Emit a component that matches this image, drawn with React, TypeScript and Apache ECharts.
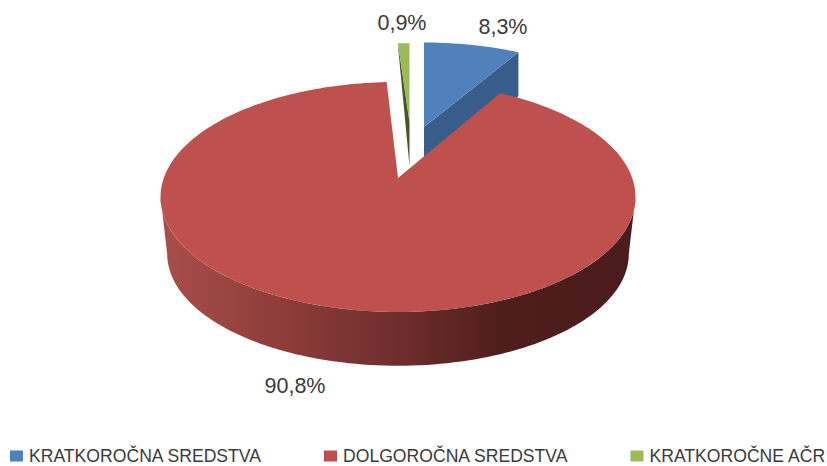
import React, { useEffect, useRef } from "react";
import * as echarts from "echarts";

const categories = ["KRATKOROČNA SREDSTVA", "DOLGOROČNA SREDSTVA", "KRATKOROČNE AČR"];
const shares = [8.3, 90.8, 0.9];
const labelTexts = ["8,3%", "90,8%", "0,9%"];
const topColors = ["#4F81BD", "#BE504D", "#9BBB59"];
const wallColors = ["#385D8A", "#4A1C1B", "#47562A"];

// Perspective of the tilted disc: maps a point of the unit circle on to the screen.
const RX = 234.2;
const RY = 115;
const K = 0.165;
const FONT = "'Liberation Sans', Arial, sans-serif";

// Where each exploded slice sits on the page (layout only).
const poses = [
  { ax: 424, ay: 127, sx: 0.925, sy: 0.88, apexDrop: 44, rimDrop: 44, shrink: 1, labelX: 503, labelY: 27, z: 2 },
  { ax: 398, ay: 178, sx: 1, sy: 1, apexDrop: 57, rimDrop: 57.5, shrink: 0.972, labelX: 295, labelY: 386, z: 4 },
  { ax: 409.5, ay: 122, sx: 1.02, sy: 0.82, apexDrop: 44, rimDrop: 2, shrink: 1, labelX: 402, labelY: 23, z: 3 },
];

function rim(deg: number) {
  const t = (deg * Math.PI) / 180;
  const u = Math.sin(t);
  const v = Math.cos(t);
  const w = 1 + K * v;
  return { dx: (RX * u) / w, dy: -((RY * v + RY * K) / w - RY * K) };
}

function arc(from: number, to: number, place: (p: { dx: number; dy: number }) => number[]) {
  const n = Math.max(2, Math.ceil(Math.abs(to - from) / 1.5));
  const out: number[][] = [];
  for (let i = 0; i <= n; i++) out.push(place(rim(from + ((to - from) * i) / n)));
  return out;
}

function makeRenderItem(index: number) {
  return (_params: any, api: any) => {
    const total = shares.reduce((a, b) => a + b, 0);
    const before = shares.slice(0, index).reduce((a, b) => a + b, 0);
    const start = (before / total) * 360;
    const end = start + ((api.value(0) as number) / total) * 360;
    const p = poses[index];
    const top = (q: { dx: number; dy: number }) => [p.ax + q.dx * p.sx, p.ay + q.dy * p.sy];
    const bottom = (q: { dx: number; dy: number }) => [
      p.ax + q.dx * p.sx * p.shrink,
      p.ay + q.dy * p.sy * p.shrink + p.rimDrop,
    ];
    const children: any[] = [];
    if (index === 1) {
      const tangent = (Math.acos(-K) * 180) / Math.PI;
      children.push({
        type: "polygon",
        shape: {
          points: [...arc(tangent, 360 - tangent, top), ...arc(360 - tangent, tangent, bottom)],
        },
        style: {
          fill: new echarts.graphic.LinearGradient(0, 0, 1, 0, [
            { offset: 0, color: "#A84E4B" },
            { offset: 0.25, color: "#8E3D3A" },
            { offset: 0.5, color: "#6E2E2C" },
            { offset: 0.72, color: "#4F1E1C" },
            { offset: 1, color: wallColors[1] },
          ]),
        },
      });
    } else {
      const wallStart = index === 0 ? end : start;
      const edge = top(rim(wallStart));
      children.push({
        type: "polygon",
        shape: {
          points: [
            [p.ax, p.ay],
            edge,
            [edge[0], edge[1] + p.rimDrop],
            [p.ax, p.ay + p.apexDrop],
          ],
        },
        style: { fill: wallColors[index] },
      });
    }
    children.push({
      type: "polygon",
      shape: { points: [[p.ax, p.ay], ...arc(start, end, top)] },
      style: { fill: topColors[index] },
    });
    children.push({
      type: "text",
      style: {
        text: labelTexts[index],
        x: p.labelX,
        y: p.labelY,
        fill: "#3A3A3A",
        font: `21.5px ${FONT}`,
        align: "center",
        verticalAlign: "middle",
      },
    });
    return { type: "group", children };
  };
}

export default function App() {
  const ref = useRef<HTMLDivElement>(null);
  useEffect(() => {
    const chart = echarts.init(ref.current!, undefined, { renderer: "svg" });
    chart.setOption({
      animation: false,
      backgroundColor: "#FFFFFF",
      legend: {
        data: categories,
        left: 10,
        top: 447,
        icon: "rect",
        itemWidth: 13,
        itemHeight: 11,
        itemGap: 62,
        padding: 0,
        textStyle: { color: "#3A3A3A", fontFamily: FONT, fontSize: 17.6, lineHeight: 16, padding: [0, 0, 0, 1] },
      },
      series: categories.map((name, i) => ({
        type: "custom",
        name,
        coordinateSystem: "none",
        z: poses[i].z,
        silent: true,
        itemStyle: { color: topColors[i] },
        data: [[shares[i]]],
        renderItem: makeRenderItem(i),
      })),
    });
    return () => chart.dispose();
  }, []);
  return <div ref={ref} style={{ position: "absolute", left: 0, top: 0, width: 827, height: 466 }} />;
}
